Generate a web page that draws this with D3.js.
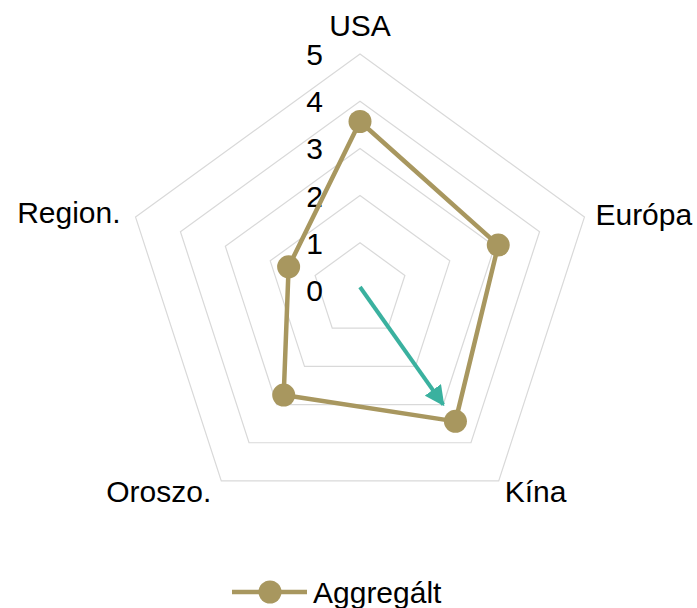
<!DOCTYPE html>
<html><head><meta charset="utf-8">
<script src="https://cdn.jsdelivr.net/npm/d3@7"></script>
<style>body{margin:0;background:#fff}svg{display:block;font-family:"Liberation Sans",Arial,sans-serif}</style>
</head><body>
<svg id="c" width="697" height="608"></svg>
<script>
const categories = ["USA", "Európa", "Kína", "Oroszo.", "Region."];
const aggregalt = [3.57, 3.08, 3.44, 2.75, 1.59];
const tickLabels = [0, 1, 2, 3, 4, 5];
const seriesName = "Aggregált";
const arrowFrom = 0, arrowTo = 3.0, arrowAxis = "Kína";

const svg = d3.select("#c");
const cx = 360, cy = 290, R = 236;
const r = d3.scaleLinear().domain([0, 5]).range([0, R]);
const ang = d3.scalePoint().domain(categories).range([0, 2*Math.PI*(categories.length-1)/categories.length]);
const pt = (c, v) => [cx + r(v)*Math.sin(ang(c)), cy - r(v)*Math.cos(ang(c))];

const lineC = "#A8975F", gridC = "#d9d9d9", teal = "#3AB19F";

// grid
tickLabels.filter(t => t > 0).forEach(t => {
  svg.append("path")
    .attr("d", d3.line()(categories.map(c => pt(c, t))) + "Z")
    .attr("fill", "none").attr("stroke", gridC).attr("stroke-width", 1.2);
});

// tick labels
svg.selectAll("text.tick").data(tickLabels).join("text")
  .attr("class", "tick")
  .attr("x", cx - 37).attr("y", d => cy - r(d) + 11)
  .attr("text-anchor", "end").attr("font-size", 30).attr("fill", "#000")
  .text(d => d);

// category labels
const lab = {
  "USA": {dx: 0, dy: -18, anchor: "middle"},
  "Európa": {dx: 11, dy: 8, anchor: "start"},
  "Kína": {dx: 6, dy: 21, anchor: "start"},
  "Oroszo.": {dx: -10, dy: 21, anchor: "end"},
  "Region.": {dx: -15, dy: 6, anchor: "end"}
};
categories.forEach(c => {
  const [x, y] = pt(c, 5);
  svg.append("text").attr("x", x + lab[c].dx).attr("y", y + lab[c].dy)
    .attr("text-anchor", lab[c].anchor).attr("font-size", 30).attr("fill", "#000").text(c);
});

// series
svg.append("path")
  .attr("d", d3.line()(categories.map((c, i) => pt(c, aggregalt[i]))) + "Z")
  .attr("fill", "none").attr("stroke", lineC).attr("stroke-width", 4.5).attr("stroke-linejoin", "round");
svg.selectAll("circle.pt").data(aggregalt).join("circle")
  .attr("class", "pt")
  .attr("cx", (d, i) => pt(categories[i], d)[0]).attr("cy", (d, i) => pt(categories[i], d)[1])
  .attr("r", 11.5).attr("fill", lineC);

// arrow annotation
const defs = svg.append("defs");
defs.append("marker").attr("id", "ah").attr("viewBox", "0 0 10 10").attr("refX", 9).attr("refY", 5)
  .attr("markerWidth", 5).attr("markerHeight", 5).attr("markerUnits", "strokeWidth").attr("orient", "auto")
  .append("path").attr("d", "M0,0L10,5L0,10Z").attr("fill", teal);
const a0 = pt(arrowAxis, arrowFrom), a1 = pt(arrowAxis, arrowTo);
svg.append("line").attr("x1", a0[0]).attr("y1", a0[1] - 3).attr("x2", a1[0]).attr("y2", a1[1])
  .attr("stroke", teal).attr("stroke-width", 4).attr("marker-end", "url(#ah)");

// legend
const lg = svg.append("g");
lg.append("line").attr("x1", 232).attr("x2", 307).attr("y1", 592).attr("y2", 592)
  .attr("stroke", lineC).attr("stroke-width", 4.5);
lg.append("circle").attr("cx", 270).attr("cy", 592).attr("r", 11.5).attr("fill", lineC);
lg.append("text").attr("x", 313).attr("y", 603).attr("font-size", 30).attr("fill", "#000").text(seriesName);
</script>
</body></html>
